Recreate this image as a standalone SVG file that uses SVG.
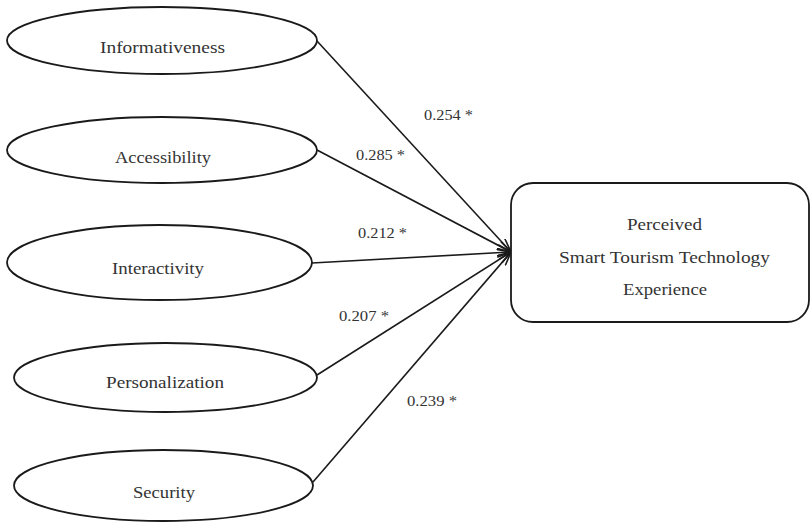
<svg xmlns="http://www.w3.org/2000/svg" width="811" height="523" viewBox="0 0 811 523">
  <style>
    .node ellipse, .node rect { fill: #ffffff; stroke: #1a1a1a; stroke-width: 1.8; }
    .lbl { font-family: "Liberation Serif", "Times New Roman", serif; font-size: 16px; fill: #333333; text-anchor: middle; }
    .edge { fill: none; stroke: #1a1a1a; stroke-width: 1.6; marker-end: url(#arr); }
    .coef { font-family: "Liberation Serif", "Times New Roman", serif; font-size: 15px; fill: #333333; }
  </style>
  <defs>
    <marker id="arr" viewBox="0 0 14 10" refX="14" refY="5" markerWidth="14" markerHeight="10" markerUnits="userSpaceOnUse" orient="auto">
      <path d="M0,0.5 L14,5 L0,9.5" fill="none" stroke="#1a1a1a" stroke-width="1.6"/>
    </marker>
  </defs>
  <rect width="811" height="523" fill="#ffffff"/>

  <g id="connectors">
    <line class="edge" x1="317" y1="41" x2="511" y2="252"/>
    <line class="edge" x1="317" y1="150" x2="511" y2="252"/>
    <line class="edge" x1="312" y1="263" x2="511" y2="252"/>
    <line class="edge" x1="317" y1="375" x2="511" y2="252"/>
    <line class="edge" x1="313" y1="482" x2="511" y2="252"/>
    <text class="coef" x="424" y="120" textLength="49" lengthAdjust="spacingAndGlyphs">0.254 *</text>
    <text class="coef" x="356" y="160" textLength="49" lengthAdjust="spacingAndGlyphs">0.285 *</text>
    <text class="coef" x="358" y="238" textLength="49" lengthAdjust="spacingAndGlyphs">0.212 *</text>
    <text class="coef" x="339" y="321" textLength="50" lengthAdjust="spacingAndGlyphs">0.207 *</text>
    <text class="coef" x="407" y="406" textLength="50" lengthAdjust="spacingAndGlyphs">0.239 *</text>
  </g>

  <g id="informativeness" class="node">
    <ellipse cx="162" cy="40.5" rx="155" ry="33.5"/>
    <text class="lbl" x="162.5" y="53" textLength="125" lengthAdjust="spacingAndGlyphs">Informativeness</text>
  </g>
  <g id="accessibility" class="node">
    <ellipse cx="162" cy="150" rx="155" ry="33"/>
    <text class="lbl" x="163" y="163" textLength="96" lengthAdjust="spacingAndGlyphs">Accessibility</text>
  </g>
  <g id="interactivity" class="node">
    <ellipse cx="159.5" cy="262.5" rx="152.5" ry="37.5"/>
    <text class="lbl" x="158" y="274" textLength="92" lengthAdjust="spacingAndGlyphs">Interactivity</text>
  </g>
  <g id="personalization" class="node">
    <ellipse cx="165.5" cy="377.5" rx="151.5" ry="34.5"/>
    <text class="lbl" x="165" y="388" textLength="118" lengthAdjust="spacingAndGlyphs">Personalization</text>
  </g>
  <g id="security" class="node">
    <ellipse cx="163.5" cy="485.5" rx="149.5" ry="35.5"/>
    <text class="lbl" x="164" y="498" textLength="62" lengthAdjust="spacingAndGlyphs">Security</text>
  </g>
  <g id="perceived-stte" class="node">
    <rect x="511" y="183" width="298" height="139" rx="22" ry="22"/>
    <text class="lbl" x="664.5" y="230" textLength="75" lengthAdjust="spacingAndGlyphs">Perceived</text>
    <text class="lbl" x="664.5" y="263" textLength="211" lengthAdjust="spacingAndGlyphs">Smart Tourism Technology</text>
    <text class="lbl" x="665" y="295" textLength="84" lengthAdjust="spacingAndGlyphs">Experience</text>
  </g>
</svg>
